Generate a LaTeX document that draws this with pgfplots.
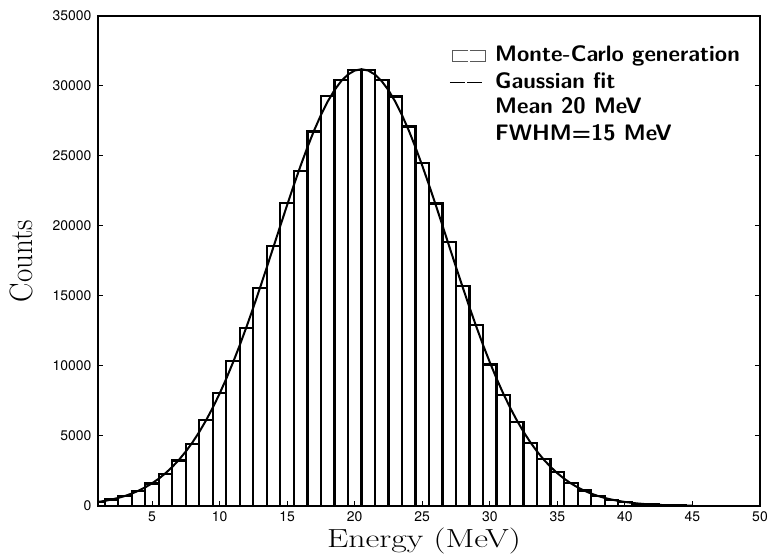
\documentclass[border=0pt]{standalone}
\usepackage{fontspec}
\usepackage{graphicx}
\usepackage{pgfplots}
\pgfplotsset{compat=1.18}
\newfontfamily\heros{TeX Gyre Heros}
\begin{document}
\begin{tikzpicture}
\begin{axis}[
  width=662bp, height=490bp, scale only axis,
  xmin=1, xmax=50, ymin=0, ymax=35000,
  xtick={5,10,...,50}, ytick={0,5000,...,35000},
  xtick pos=bottom, ytick pos=both,
  tick align=inside, major tick length=5bp,
  every tick/.style={black, line width=1bp},
  axis line style={line width=1.5bp},
  scaled y ticks=false,
  y tick label style={/pgf/number format/fixed, /pgf/number format/1000 sep={}, xshift=-3bp},
  x tick label style={yshift=-2bp},
  ticklabel style={font=\heros\fontsize{14}{16}\selectfont},
  /pgf/number format/assume math mode=true,
  xlabel={\scalebox{1.36}[1.05]{\fontsize{25}{30}\selectfont Energy (MeV)}},
  ylabel={\scalebox{1.04}[1.16]{\fontsize{28}{32}\selectfont Counts}},
  xlabel style={at={(axis description cs:0.4924,-0.0837)}, anchor=base},
  ylabel style={at={(axis description cs:-0.0982,0.5)}, anchor=base, rotate=0},
]
\addplot[ybar interval, draw=black, fill=none, line width=2.2bp] coordinates {
(0.5,300) (1.5,470) (2.5,730) (3.5,1060) (4.5,1600) (5.5,2300) (6.5,3250) (7.5,4450) (8.5,6150) (9.5,8050)
(10.5,10350) (11.5,12700) (12.5,15550) (13.5,18550) (14.5,21650) (15.5,23950) (16.5,26750) (17.5,29300) (18.5,30450) (19.5,31150)
(20.5,31150) (21.5,30400) (22.5,29250) (23.5,27100) (24.5,24500) (25.5,21600) (26.5,18850) (27.5,15700) (28.5,12950) (29.5,10100)
(30.5,7950) (31.5,6000) (32.5,4500) (33.5,3350) (34.5,2400) (35.5,1650) (36.5,1100) (37.5,700) (38.5,450) (39.5,280)
(40.5,170) (41.5,100) (42.5,60) (43.5,35) (44.5,20) (45.5,10) (46.5,5) (47.5,3) (48.5,1) (49.5,0) (50.5,0)
};
\addplot[black, line width=2bp] coordinates {
(1,289) (1.5,366) (2,461) (2.5,577) (3,718) (3.5,888) (4,1092) (4.5,1333) (5,1619) (5.5,1953)
(6,2344) (6.5,2792) (7,3307) (7.5,3893) (8,4554) (8.5,5296) (9,6122) (9.5,7031) (10,8025) (10.5,9105)
(11,10271) (11.5,11506) (12,12815) (12.5,14185) (13,15607) (13.5,17064) (14,18543) (14.5,20027) (15,21497) (15.5,22933)
(16,24314) (16.5,25620) (17,26832) (17.5,27927) (18,28888) (18.5,29700) (19,30348) (19.5,30818) (20,31104) (20.5,31200)
(21,31104) (21.5,30818) (22,30348) (22.5,29700) (23,28888) (23.5,27927) (24,26832) (24.5,25620) (25,24314) (25.5,22933)
(26,21497) (26.5,20027) (27,18543) (27.5,17064) (28,15607) (28.5,14185) (29,12815) (29.5,11506) (30,10271) (30.5,9105)
(31,8025) (31.5,7031) (32,6122) (32.5,5296) (33,4554) (33.5,3893) (34,3307) (34.5,2792) (35,2344) (35.5,1953)
(36,1619) (36.5,1333) (37,1092) (37.5,888) (38,718) (38.5,577) (39,461) (39.5,366) (40,289) (40.5,226)
(41,176) (41.5,137) (42,105) (42.5,80) (43,61) (43.5,46) (44,35) (44.5,26) (45,19)
};
% legend
\draw[gray!70!black, line width=0.8bp] (axis description cs:0.5589,0.9306) -- (axis description cs:0.5347,0.9306) -- (axis description cs:0.5347,0.9082) -- (axis description cs:0.5589,0.9082);
\draw[gray!70!black, line width=0.8bp] (axis description cs:0.5619,0.9306) -- (axis description cs:0.5846,0.9306) -- (axis description cs:0.5846,0.9082) -- (axis description cs:0.5619,0.9082);
\draw[black, line width=1.4bp] (axis description cs:0.5317,0.8639) -- (axis description cs:0.5545,0.8639);
\draw[black, line width=1.4bp] (axis description cs:0.5575,0.8639) -- (axis description cs:0.58,0.8639);
\begin{scope}[every node/.style={anchor=base west, inner sep=0pt, font=\sffamily\bfseries\fontsize{22.5}{26}\selectfont}]
\node at (axis description cs:0.5997,0.9067) {Monte-Carlo generation};
\node at (axis description cs:0.5997,0.8524) {Gaussian fit};
\node at (axis description cs:0.5997,0.8) {Mean 20 MeV};
\node at (axis description cs:0.5997,0.7455) {FWHM=15 MeV};
\end{scope}
\end{axis}
\pgfresetboundingbox
\path ([xshift=-98bp,yshift=-53bp]current axis.south west) rectangle ([xshift=8bp,yshift=16bp]current axis.north east);
\end{tikzpicture}
\end{document}
